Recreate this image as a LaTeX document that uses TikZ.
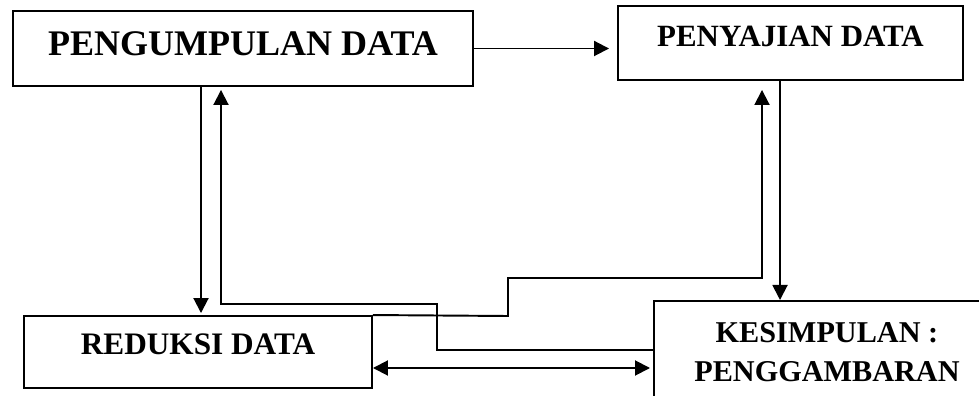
\documentclass[tikz,border=0pt]{standalone}
\usepackage{fontspec}
\setmainfont{Liberation Serif}
\usetikzlibrary{arrows.meta}

\tikzset{
  box/.style={draw, rectangle, line width=1.1pt, inner sep=0pt},
  arr/.style={-{Triangle[length=0.3cm,width=0.3cm]}, line width=1.1pt},
  darr/.style={{Triangle[length=0.3cm,width=0.3cm]}-{Triangle[length=0.3cm,width=0.3cm]}, line width=1.1pt},
}

\begin{document}
\begin{tikzpicture}
\clip (0,0) rectangle (19.58,-7.92);
% the four boxes
\node[box, minimum width=9.2cm, minimum height=1.5cm, text height=0.48cm, text depth=0.18cm,
      font=\bfseries\fontsize{20.5}{24}\selectfont] (pengumpulan) at (4.86,-0.97) {PENGUMPULAN DATA};
\node[box, minimum width=6.9cm, minimum height=1.48cm, text height=0.41cm, text depth=0.25cm,
      font=\bfseries\fontsize{17.6}{21}\selectfont] (penyajian) at (15.81,-0.86) {PENYAJIAN DATA};
\node[box, minimum width=6.96cm, minimum height=1.44cm, text height=0.42cm, text depth=0.30cm,
      font=\bfseries\fontsize{17.8}{21}\selectfont] (reduksi) at (3.96,-7.04) {REDUKSI DATA};
\node[box, anchor=north west, minimum width=6.92cm, inner ysep=0.44cm, align=center,
      font=\bfseries\fontsize{17.2}{22.1}\selectfont] (kesimpulan) at (13.06,-6.0) {KESIMPULAN :\\PENGGAMBARAN};

% bends of the connectors
\coordinate (d1) at (4.02,0);
\coordinate (d2) at (15.6,0);
\coordinate (d3) at (0,-7.36);
\coordinate (c1) at (4.42,-6.08);
\coordinate (c2) at (8.74,-6.08);
\coordinate (c3) at (8.74,-7.0);
\coordinate (c4) at (10.16,-6.32);
\coordinate (c5) at (10.16,-5.56);
\coordinate (c6) at (15.24,-5.56);

\draw[arr, shorten >=0.16cm] (pengumpulan.east) -- (pengumpulan.east -| penyajian.west);
\draw[arr, shorten >=0.04cm] (d1 |- pengumpulan.south) -- (d1 |- reduksi.north);
\draw[arr, shorten >=0.06cm] (c3 -| kesimpulan.west) -- (c3) -- (c2) -- (c1) -- (c1 |- pengumpulan.south);
\draw[arr] (d2 |- penyajian.south) -- (d2 |- kesimpulan.north);
\draw[arr, shorten >=0.18cm] (reduksi.north east) -- (c4) -- (c5) -- (c6) -- (c6 |- penyajian.south);
\draw[darr, shorten >=0.06cm] (d3 -| reduksi.east) -- (d3 -| kesimpulan.west);
\end{tikzpicture}
\end{document}
